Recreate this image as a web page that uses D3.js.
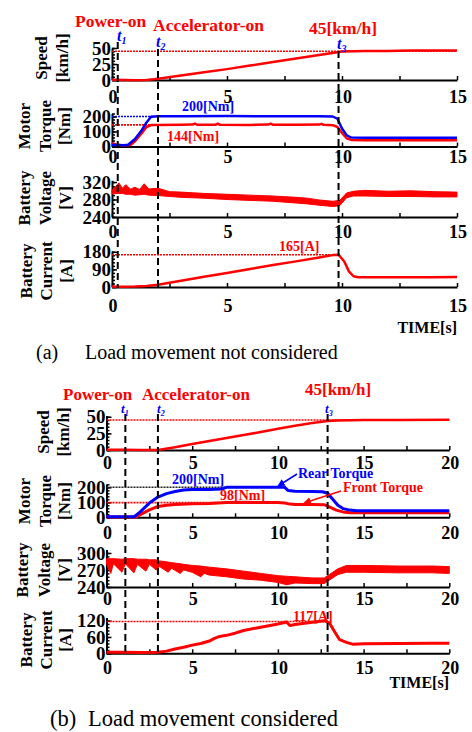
<!DOCTYPE html>
<html>
<head>
<meta charset="utf-8">
<script src="https://cdn.jsdelivr.net/npm/d3@7"></script>
<style>
  body { margin: 0; background: #fff; }
  text { font-family: 'Liberation Serif', 'Times New Roman', serif; }
</style>
</head>
<body>
<div id="chart"></div>
<script>
// ---- data: [time s, value] ----
// (a) load movement not considered
var speedA = [[0,0.5],[0.5,0],[1,-0.5],[1.5,0],[1.8,1],[2,2],[3,7],[4,12],[5,17],[6,22.5],[7,28],[8,33.5],[9,39],[9.8,43.5],[10,44.5],[11,45.5],[12,45.5],[13,46],[14,46],[15,46]];
var rearA  = [[0,10],[0.3,10],[0.5,8],[0.7,12],[1,50],[1.3,110],[1.5,160],[1.7,198],[2,202],[3,202],[5,203],[7,202],[9,202],[9.6,200],[9.8,185],[10,120],[10.2,75],[10.4,60],[11,58],[13,58],[15,58]];
var frontA = [[0,22],[0.2,12],[0.4,8],[0.8,10],[1,35],[1.3,90],[1.5,130],[1.7,143],[2,144],[3,145],[3.5,146],[3.6,153],[3.7,145],[4.5,145],[4.6,152],[4.7,145],[6,144],[6.8,146],[6.9,152],[7,145],[8,145],[9,146],[9.1,151],[9.2,145],[9.6,142],[9.8,130],[10,90],[10.2,55],[10.4,44],[11,42],[13,42],[15,42]];
// voltage trace is noisy: [time, low edge, high edge]
var voltA  = [[0,293,301],[0.3,294,318],[0.45,294,306],[0.6,292,314],[0.8,292,304],[1,290,308],[1.2,291,303],[1.4,292,316],[1.6,290,304],[2,289,306],[2.5,287,298],[3,285,297],[4,283,294],[5,280,292],[6,278,290],[7,276,288],[8,272,285],[8.5,270,283],[9,267,279],[9.6,264,276],[9.9,266,278],[10.2,284,295],[10.5,288,299],[11,288,301],[12,287,299],[13,287,300],[14,286,298],[15,286,297]];
var currA  = [[0,2],[0.3,1],[1,2],[1.5,5],[2,12],[3,32],[4,52],[5,72],[6,92],[7,112],[8,131],[9,151],[9.6,163],[9.85,165],[10.1,130],[10.3,80],[10.5,55],[10.7,50],[12,50],[14,50],[15,51]];
var marksA = [0.25, 2.0, 9.85];

// (b) load movement considered
var speedB = [[0,0.5],[1,0.5],[2,0],[3,0],[4,4],[5,9],[6,13.5],[7,18],[8,22.5],[9,27],[10,32],[11,36.5],[12,40.5],[12.9,43.5],[13.5,44.5],[15,45],[17,45],[20,45.5]];
var rearB  = [[0,3],[1,3],[1.6,3],[2,40],[2.5,95],[3,135],[3.5,158],[4,172],[4.5,182],[5,185],[6,186],[6.7,188],[7,200],[8,201],[9,201],[10,201],[10.4,200],[10.6,178],[11,174],[12,172],[12.6,170],[12.9,160],[13.2,120],[13.5,80],[13.8,58],[14.2,48],[14.6,44],[16,43],[18,43],[20,43]];
var frontB = [[0,2],[1.7,2],[2,20],[2.5,50],[3,72],[3.5,80],[4,85],[5,90],[6,92],[7,98],[8,100],[9,99],[10,98],[10.4,95],[10.7,88],[11,86],[12,86],[12.7,84],[13,70],[13.4,48],[13.8,36],[14.2,31],[16,31],[18,31],[20,31]];
var voltB  = [[0,280,290],[0.25,264,290],[0.4,281,290],[0.9,266,289],[1.1,281,290],[1.6,265,290],[1.8,280,289],[2.3,268,289],[2.5,280,288],[2.9,270,288],[3.1,276,286],[3.6,266,284],[3.8,273,283],[4.3,264,281],[4.5,270,280],[5,266,278],[5.5,258,277],[5.7,264,276],[6,261,275],[7,258,272],[8,254,268],[9,252,264],[10,248,260],[10.5,244,259],[11,247,258],[12,246,256],[12.7,246,256],[13,252,262],[13.5,262,272],[14,266,278],[15,266,278],[17,265,277],[19,265,277],[20,264,276]];
var currB  = [[0,4],[1,4],[2,3],[3,4],[3.5,8],[4,16],[4.5,22],[5,30],[5.5,36],[6,45],[6.3,55],[6.6,62],[7,66],[7.5,74],[8,84],[9,96],[10,108],[10.5,115],[10.7,102],[11,106],[12,114],[12.7,120],[13,112],[13.3,80],[13.6,50],[14,40],[14.4,33],[15,35],[17,36],[19,37],[20,37]];
var marksB = [1.1, 3.0, 12.9];

var xTicksA = [0, 5, 10, 15];
var xTicksB = [0, 5, 10, 15, 20];

var W = 472, H = 732;
var RED = "#ff0000", BLUE = "#0000ff";

var svg = d3.select("#chart").append("svg")
    .attr("width", W)
    .attr("height", H);

function yTitle(lines, xs, yc) {
  lines.forEach(function(s, i) {
    svg.append("text")
       .attr("transform", "translate(" + xs[i] + "," + yc + ") rotate(-90)")
       .attr("text-anchor", "middle")
       .attr("dominant-baseline", "central")
       .attr("font-size", "17px")
       .attr("font-weight", "bold")
       .text(s);
  });
}

function label(x, y, s, color, size, anchor) {
  return svg.append("text")
     .attr("x", x).attr("y", y)
     .attr("fill", color)
     .attr("font-size", size + "px")
     .attr("font-weight", "bold")
     .attr("text-anchor", anchor || "start")
     .text(s);
}

// one strip: y axis with inward minor ticks, x axis with inward ticks
function panel(x, p, xTicks) {
  var y = d3.scaleLinear().domain(p.dom).range(p.r);
  var g = svg.append("g");

  // x axis
  var gx = g.append("g")
     .attr("transform", "translate(0," + p.r[0] + ")")
     .call(d3.axisBottom(x).tickValues(d3.range(x.domain()[0], x.domain()[1] + 0.01, 2.5))
          .tickSize(-4).tickSizeOuter(0).tickFormat(""));
  gx.select(".domain").attr("stroke-width", 2);
  gx.selectAll(".tick line").attr("stroke-width", 1.5);

  xTicks.forEach(function(v) {
    g.append("text")
     .attr("x", x(v) + 1).attr("y", p.r[0] + p.lab)
     .attr("text-anchor", "middle")
     .attr("font-size", "18px").attr("font-weight", "bold")
     .text(v);
  });

  // y axis
  var gyMinor = g.append("g")
     .attr("transform", "translate(" + x.range()[0] + ",0)")
     .call(d3.axisLeft(y).tickValues(d3.range(p.dom[0], p.top + 0.01, p.minor))
          .tickSize(-3).tickSizeOuter(0).tickFormat(""));
  gyMinor.select(".domain").attr("stroke-width", 2);
  gyMinor.selectAll(".tick line").attr("stroke-width", 1.5);

  var gy = g.append("g")
     .attr("transform", "translate(" + x.range()[0] + ",0)")
     .call(d3.axisLeft(y).tickValues(p.ticks).tickSize(-5).tickSizeOuter(0).tickPadding(1));
  gy.select(".domain").remove();
  gy.selectAll(".tick line").attr("stroke-width", 1.5);
  gy.selectAll(".tick text")
    .attr("font-family", "'Liberation Serif','Times New Roman',serif")
    .attr("font-size", "19px").attr("font-weight", "bold");

  return y;
}

function trace(x, y, data, color, w) {
  svg.append("path")
     .datum(data)
     .attr("fill", "none")
     .attr("stroke", color)
     .attr("stroke-width", w || 2.5)
     .attr("stroke-linejoin", "round")
     .attr("d", d3.line().x(function(d) { return x(d[0]); }).y(function(d) { return y(d[1]); }));
}

function band(x, y, data, color) {
  svg.append("path")
     .datum(data)
     .attr("fill", color)
     .attr("stroke", color)
     .attr("stroke-width", 1)
     .attr("d", d3.area().x(function(d) { return x(d[0]); })
                         .y0(function(d) { return y(d[1]); })
                         .y1(function(d) { return y(d[2]); }));
}

function refLine(x, y, v, t0, t1, color) {
  svg.append("line")
     .attr("x1", x(t0)).attr("x2", x(t1))
     .attr("y1", y(v)).attr("y2", y(v))
     .attr("stroke", color)
     .attr("stroke-width", 1.6)
     .attr("stroke-dasharray", "2,1");
}

function marker(x, t, y0, y1) {
  svg.append("line")
     .attr("x1", x(t)).attr("x2", x(t))
     .attr("y1", y0).attr("y2", y1)
     .attr("stroke", "#000")
     .attr("stroke-width", 2)
     .attr("stroke-dasharray", "7,4");
}

function tLabel(px, py, n, size) {
  var t = svg.append("text")
     .attr("x", px).attr("y", py)
     .attr("fill", BLUE)
     .attr("font-size", size + "px")
     .attr("font-weight", "bold")
     .attr("font-style", "italic");
  t.append("tspan").text("t");
  t.append("tspan").attr("font-size", (size * 0.62) + "px").attr("dy", 3).text(n);
}

function arrow(x1, y1, x2, y2, color, id) {
  svg.append("defs").append("marker")
     .attr("id", id)
     .attr("viewBox", "0 0 10 10")
     .attr("refX", 9).attr("refY", 5)
     .attr("markerWidth", 5).attr("markerHeight", 5)
     .attr("orient", "auto")
     .append("path").attr("d", "M0,0 L10,5 L0,10 z").attr("fill", color);
  svg.append("line")
     .attr("x1", x1).attr("y1", y1).attr("x2", x2).attr("y2", y2)
     .attr("stroke", color).attr("stroke-width", 1.5)
     .attr("marker-end", "url(#" + id + ")");
}

// ================= (a) =================
var xA = d3.scaleLinear().domain([0, 15]).range([112, 457]);

var ySA = panel(xA, {dom: [0, 50], r: [80, 48], top: 50, ticks: [0, 25, 50], minor: 5, lab: 23}, xTicksA);
var yTA = panel(xA, {dom: [0, 220], r: [146.5, 113.5], top: 220, ticks: [0, 100, 200], minor: 20, lab: 16}, xTicksA);
var yVA = panel(xA, {dom: [240, 324], r: [217, 180.3], top: 320, ticks: [240, 280, 320], minor: 10, lab: 21}, xTicksA);
var yCA = panel(xA, {dom: [0, 184], r: [287, 251], top: 180, ticks: [0, 90, 180], minor: 18, lab: 25}, xTicksA);

yTitle(["Speed", "[km/h]"], [41, 62], 58);
yTitle(["Motor", "Torque", "[Nm]"], [24, 45, 64], 126);
yTitle(["Battery", "Voltage", "[V]"], [24, 45, 65], 198);
yTitle(["Battery", "Current", "[A]"], [26, 46, 66], 271);

refLine(xA, ySA, 45, 0, 15, RED);
refLine(xA, yTA, 200, 0, 1.8, BLUE);
refLine(xA, yTA, 144, 0, 1.7, RED);
refLine(xA, yCA, 165, 0, 9.85, RED);

trace(xA, ySA, speedA, RED);
trace(xA, yTA, frontA, RED);
trace(xA, yTA, rearA, BLUE);
band(xA, yVA, voltA, RED);
trace(xA, yCA, currA, RED);

marker(xA, marksA[0], 42, 288);
marker(xA, marksA[1], 49, 288);
marker(xA, marksA[2], 51, 288);

label(75, 27, "Power-on", RED, 17.5);
label(153, 31, "Accelerator-on", RED, 17.5);
label(309, 34, "45[km/h]", RED, 17.5);
tLabel(117, 41, "1", 16);
tLabel(156, 47, "2", 16);
tLabel(337, 49, "3", 16);
label(182, 111, "200[Nm]", BLUE, 14);
label(167, 141, "144[Nm]", RED, 14);
label(279, 251, "165[A]", RED, 14);
label(457, 333, "TIME[s]", "#000", 16, "end");

svg.append("text").attr("x", 36).attr("y", 359).attr("font-size", "20px").text("(a)");
svg.append("text").attr("x", 85).attr("y", 359).attr("font-size", "20px").text("Load movement not considered");

// ================= (b) =================
var xB = d3.scaleLinear().domain([0, 20]).range([106.5, 449.3]);

var ySB = panel(xB, {dom: [0, 52], r: [450, 415.4], top: 50, ticks: [0, 25, 50], minor: 5, lab: 19}, xTicksB);
var yTB = panel(xB, {dom: [0, 220], r: [517.3, 484.3], top: 220, ticks: [0, 100, 200], minor: 20, lab: 22}, xTicksB);
var yVB = panel(xB, {dom: [240, 306], r: [587, 549.6], top: 300, ticks: [240, 270, 300], minor: 6, lab: 18}, xTicksB);
var yCB = panel(xB, {dom: [0, 132], r: [653.3, 617.4], top: 130, ticks: [0, 60, 120], minor: 12, lab: 21}, xTicksB);

yTitle(["Speed", "[km/h]"], [43, 63], 432);
yTitle(["Motor", "Torque", "[Nm]"], [24, 45, 64], 501);
yTitle(["Battery", "Voltage", "[V]"], [22, 44, 64], 570);
yTitle(["Battery", "Current", "[A]"], [26, 46, 65], 640);

refLine(xB, ySB, 45, 0, 20, RED);
refLine(xB, yTB, 200, 0, 7.2, "#222");
refLine(xB, yTB, 98, 0, 7, RED);
refLine(xB, yCB, 117, 0, 12.7, RED);

trace(xB, ySB, speedB, RED);
trace(xB, yTB, frontB, RED, 3);
trace(xB, yTB, rearB, BLUE, 3);
band(xB, yVB, voltB, RED);
trace(xB, yCB, currB, RED, 3);

marker(xB, marksB[0], 414, 654);
marker(xB, marksB[1], 414, 654);
marker(xB, marksB[2], 414, 654);

label(63, 400, "Power-on", RED, 17);
label(142, 400, "Accelerator-on", RED, 17);
label(305, 395, "45[km/h]", RED, 17);
tLabel(121, 413, "1", 13);
tLabel(157, 413, "2", 13);
tLabel(325, 413, "3", 13);
label(172, 484, "200[Nm]", BLUE, 14);
label(220, 500, "98[Nm]", RED, 14);
label(298, 478, "Rear Torque", BLUE, 14);
label(343, 492, "Front Torque", RED, 14);
arrow(297, 474, 278, 486, BLUE, "arB");
arrow(341, 491, 304, 503, RED, "arR");
label(293, 621, "117[A]", RED, 14);
label(449, 688, "TIME[s]", "#000", 16, "end");

svg.append("text").attr("x", 50).attr("y", 726).attr("font-size", "22.5px").text("(b)");
svg.append("text").attr("x", 88).attr("y", 726).attr("font-size", "22.5px").text("Load movement considered");
</script>
</body>
</html>
